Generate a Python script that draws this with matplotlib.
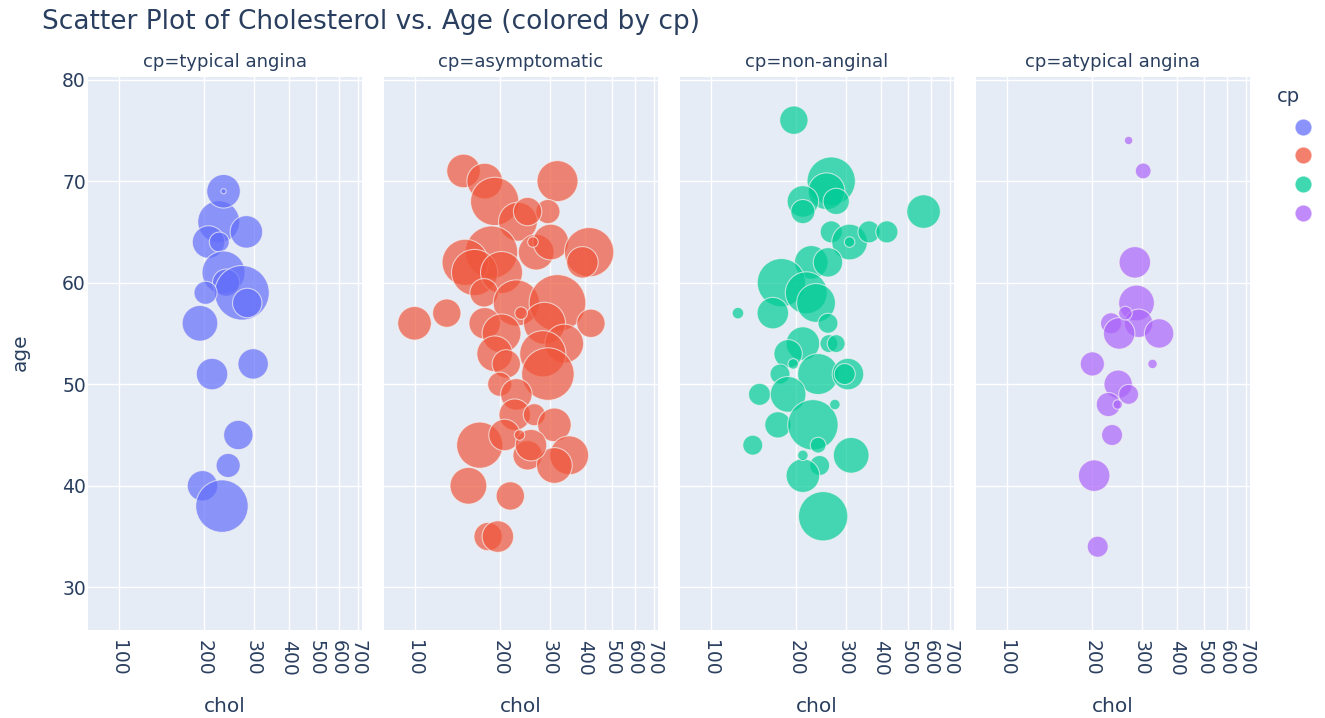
import matplotlib.pyplot as plt

# cp=typical angina
ta_chol = [226, 283, 208, 227, 235, 240, 273, 285, 203, 194, 214, 299, 265, 244, 198, 232, 235, 235]
ta_age = [66, 65, 64, 64, 61, 60, 59, 58, 59, 56, 51, 52, 45, 42, 40, 38, 69, 69]
ta_size = [40, 31, 31, 19, 41, 26, 52, 28, 22, 34, 30, 29, 28, 23, 29, 50, 32, 5]

# cp=asymptomatic
as_chol = [149, 177, 320, 192, 232, 296, 251, 187, 151, 163, 269, 303, 414, 392, 203, 176, 229, 320,
           420, 100, 130, 177, 203, 288, 338, 284, 192, 211, 296, 200, 229, 226, 265, 312, 170, 208,
           251, 352, 312, 258, 155, 218, 182, 197, 262, 238, 235]
as_age = [71, 70, 70, 68, 66, 67, 67, 63, 62, 61, 63, 64, 63, 62, 61, 59, 58, 58,
          56, 56, 57, 56, 55, 56, 54, 53, 53, 52, 51, 50, 49, 47, 47, 46, 44, 45,
          43, 43, 42, 44, 40, 39, 35, 35, 64, 57, 45]
as_size = [32, 34, 39, 46, 37, 23, 27, 50, 44, 44, 34, 34, 47, 30, 40, 27, 44, 54,
           27, 32, 27, 30, 37, 40, 37, 44, 34, 27, 50, 23, 30, 30, 21, 32, 44, 30,
           28, 37, 34, 30, 35, 27, 27, 30, 10, 12, 10]

# cp=non-anginal
na_chol = [197, 267, 257, 212, 212, 278, 566, 267, 310, 363, 420, 227, 260, 178, 218, 236, 166, 260,
           212, 262, 278, 188, 240, 306, 298, 176, 149, 188, 173, 230, 240, 141, 314, 243, 212, 250,
           310, 125, 196, 275, 212]
na_age = [76, 70, 69, 68, 67, 68, 67, 65, 64, 65, 65, 62, 62, 60, 59, 58, 57, 56,
          54, 54, 54, 53, 51, 51, 51, 51, 49, 49, 46, 46, 44, 44, 43, 42, 41, 37,
          64, 57, 52, 48, 43]
na_size = [27, 46, 35, 30, 23, 25, 32, 21, 34, 21, 21, 32, 28, 46, 40, 37, 30, 19,
           32, 17, 17, 27, 39, 30, 20, 19, 21, 34, 25, 48, 15, 19, 34, 19, 32, 47,
           10, 11, 10, 10, 10]

# cp=atypical angina
at_chol = [304, 284, 288, 293, 234, 250, 346, 201, 248, 270, 229, 236, 204, 210, 263, 270, 328, 247]
at_age = [71, 62, 58, 56, 56, 55, 55, 52, 50, 49, 48, 45, 41, 34, 57, 74, 52, 48]
at_size = [15, 30, 34, 27, 20, 30, 28, 23, 27, 19, 23, 20, 30, 20, 13, 8, 9, 9]

panels = [
    ("cp=typical angina", ta_chol, ta_age, ta_size, "#636EFA"),
    ("cp=asymptomatic", as_chol, as_age, as_size, "#EF553B"),
    ("cp=non-anginal", na_chol, na_age, na_size, "#00CC96"),
    ("cp=atypical angina", at_chol, at_age, at_size, "#AB63FA"),
]

W, H = 1325, 718
txt = "#2a3f5f"
plt.rcParams['font.family'] = ['DejaVu Sans']
fig = plt.figure(figsize=(W / 100, H / 100), dpi=100)

x_lefts = [88, 384, 680, 976]
pw = 274
top, bot = 77, 630
xticks = [100, 200, 300, 400, 500, 600, 700]

for i, (name, chol, age, size, col) in enumerate(panels):
    ax = fig.add_axes([x_lefts[i] / W, 1 - bot / H, pw / W, (bot - top) / H])
    ax.set_facecolor("#E5ECF6")
    ax.set_xscale("log")
    ax.set_xlim(78, 725)
    ax.set_ylim(25.8, 80.25)
    for v in xticks:
        ax.axvline(v, color="white", lw=1.0, zorder=0)
    for v in range(30, 81, 10):
        ax.axhline(v, color="white", lw=1.0, zorder=0)
    ax.scatter(chol, age, s=[(d * 1.05 * 0.72) ** 2 for d in size], color=col, alpha=0.7,
               edgecolors="#f2f2f2", linewidths=0.8, zorder=2)
    ax.set_xticks(xticks)
    ax.set_xticklabels([str(v) for v in xticks], rotation=-90, fontsize=13.5, color=txt)
    ax.xaxis.set_minor_locator(plt.NullLocator())
    ax.set_yticks(range(30, 81, 10))
    if i == 0:
        ax.set_yticklabels([str(v) for v in range(30, 81, 10)], fontsize=13.5, color=txt)
    else:
        ax.set_yticklabels([])
    ax.tick_params(length=0, axis="x", pad=7)
    ax.tick_params(length=0, axis="y", pad=1.5)
    for sp in ax.spines.values():
        sp.set_visible(False)
    cx = (x_lefts[i] + pw / 2) / W
    fig.text(cx, 1 - 62 / H, name, ha="center", va="center", fontsize=13, color=txt)
    fig.text(cx, 1 - 706 / H, "chol", ha="center", va="center", fontsize=14.5, color=txt)

fig.text(20 / W, 1 - 352 / H, "age", rotation=90, ha="center", va="center", fontsize=14.5, color=txt)
fig.text(42 / W, 1 - 22 / H, "Scatter Plot of Cholesterol vs. Age (colored by cp)",
         ha="left", va="center", fontsize=19, color=txt)

# legend (cut off at the right edge)
fig.text(1288 / W, 1 - 97 / H, "cp", ha="center", va="center", fontsize=14, color=txt)
lax = fig.add_axes([1290 / W, 1 - 230 / H, 21 / W, 120 / H])
lax.set_xlim(1290, 1311)
lax.set_ylim(230, 110)
lax.axis("off")
for (name, _, _, _, col), yy in zip(panels, [127, 155, 184, 213]):
    lax.scatter([1303], [yy], s=(17 * 0.72) ** 2, color=col, alpha=0.75,
                edgecolors="white", linewidths=0.8, clip_on=True)

fig.savefig("out.png", dpi=100)
